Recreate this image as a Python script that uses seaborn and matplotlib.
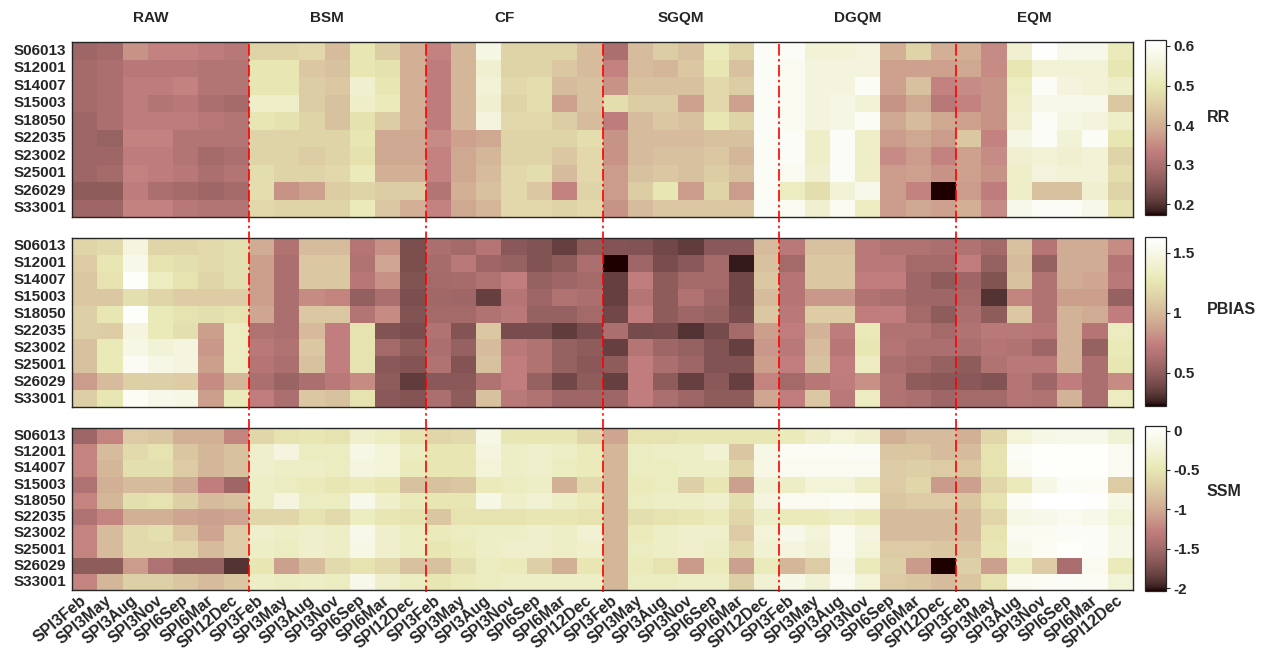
import numpy as np
import matplotlib
matplotlib.use("Agg")
import matplotlib.pyplot as plt
import seaborn as sns
from matplotlib.lines import Line2D
from matplotlib import transforms

stations = ["S06013", "S12001", "S14007", "S15003", "S18050",
            "S22035", "S23002", "S25001", "S26029", "S33001"]
indices = ["SPI3Feb", "SPI3May", "SPI3Aug", "SPI3Nov", "SPI6Sep", "SPI6Mar", "SPI12Dec"]
methods = ["RAW", "BSM", "CF", "SGQM", "DGQM", "EQM"]

# ---------------- RR ----------------
rr_raw = [[0.28,0.29,0.36,0.34,0.34,0.33,0.32],[0.29,0.30,0.32,0.32,0.32,0.31,0.31],
          [0.29,0.30,0.33,0.33,0.34,0.31,0.31],[0.29,0.30,0.33,0.31,0.32,0.30,0.29],
          [0.28,0.30,0.33,0.33,0.33,0.32,0.31],[0.28,0.27,0.34,0.34,0.31,0.31,0.31],
          [0.28,0.28,0.33,0.33,0.31,0.29,0.30],[0.28,0.29,0.34,0.33,0.32,0.30,0.31],
          [0.26,0.26,0.33,0.30,0.29,0.28,0.29],[0.28,0.28,0.34,0.34,0.32,0.31,0.31]]
rr_bsm = [[0.46,0.46,0.47,0.42,0.50,0.45,0.40],[0.50,0.50,0.44,0.43,0.50,0.49,0.40],
          [0.50,0.50,0.45,0.44,0.54,0.50,0.40],[0.53,0.53,0.45,0.43,0.53,0.51,0.40],
          [0.50,0.49,0.46,0.43,0.49,0.45,0.40],[0.46,0.46,0.46,0.46,0.50,0.39,0.39],
          [0.46,0.46,0.45,0.46,0.49,0.39,0.39],[0.48,0.46,0.46,0.47,0.51,0.40,0.40],
          [0.48,0.36,0.38,0.45,0.46,0.45,0.45],[0.47,0.46,0.46,0.46,0.51,0.44,0.40]]
rr_cf = [[0.34,0.41,0.57,0.46,0.46,0.46,0.42],[0.33,0.41,0.54,0.46,0.46,0.44,0.42],
         [0.33,0.41,0.55,0.47,0.48,0.42,0.43],[0.33,0.41,0.54,0.46,0.48,0.38,0.43],
         [0.33,0.41,0.56,0.47,0.47,0.45,0.42],[0.35,0.38,0.39,0.46,0.46,0.46,0.48],
         [0.34,0.39,0.41,0.46,0.46,0.44,0.47],[0.34,0.39,0.42,0.47,0.48,0.42,0.47],
         [0.31,0.40,0.43,0.47,0.44,0.34,0.46],[0.34,0.39,0.41,0.47,0.47,0.46,0.47]]
rr_sgqm = [[0.30,0.42,0.45,0.43,0.51,0.46,0.60],[0.34,0.42,0.41,0.44,0.50,0.43,0.60],
           [0.36,0.43,0.43,0.43,0.47,0.45,0.60],[0.48,0.45,0.45,0.38,0.47,0.38,0.60],
           [0.33,0.42,0.44,0.43,0.50,0.46,0.60],[0.36,0.42,0.42,0.42,0.43,0.43,0.60],
           [0.36,0.42,0.43,0.43,0.44,0.41,0.60],[0.37,0.43,0.44,0.43,0.45,0.43,0.60],
           [0.37,0.45,0.50,0.37,0.46,0.37,0.60],[0.36,0.42,0.44,0.44,0.44,0.44,0.60]]
rr_dgqm = [[0.60,0.55,0.55,0.56,0.40,0.46,0.40],[0.59,0.56,0.56,0.56,0.38,0.38,0.38],
           [0.59,0.56,0.56,0.60,0.38,0.43,0.34],[0.59,0.56,0.57,0.55,0.36,0.39,0.32],
           [0.59,0.56,0.57,0.60,0.39,0.42,0.39],[0.60,0.53,0.60,0.53,0.37,0.39,0.37],
           [0.60,0.53,0.60,0.53,0.35,0.37,0.34],[0.59,0.54,0.60,0.53,0.37,0.38,0.36],
           [0.52,0.48,0.55,0.58,0.37,0.34,0.17],[0.59,0.54,0.59,0.52,0.37,0.39,0.38]]
rr_eqm = [[0.40,0.35,0.54,0.61,0.58,0.58,0.51],[0.39,0.35,0.50,0.55,0.55,0.55,0.50],
          [0.35,0.36,0.52,0.60,0.56,0.55,0.53],[0.34,0.36,0.53,0.58,0.58,0.58,0.44],
          [0.38,0.36,0.54,0.60,0.57,0.56,0.53],[0.44,0.34,0.57,0.60,0.55,0.60,0.50],
          [0.38,0.35,0.54,0.55,0.54,0.55,0.46],[0.38,0.36,0.53,0.56,0.55,0.55,0.48],
          [0.37,0.33,0.53,0.43,0.43,0.54,0.46],[0.40,0.35,0.58,0.60,0.60,0.58,0.49]]

# ---------------- PBIAS ----------------
pb_raw = [[1.15,1.18,1.46,1.15,1.15,1.18,1.21],[1.10,1.26,1.52,1.24,1.21,1.18,1.21],
          [1.07,1.24,1.60,1.32,1.24,1.15,1.21],[1.07,1.07,1.21,1.15,1.10,1.10,1.10],
          [1.12,1.26,1.60,1.29,1.24,1.21,1.24],[1.12,1.10,1.46,1.29,1.21,0.87,1.32],
          [1.04,1.29,1.49,1.42,1.46,0.84,1.32],[1.04,1.29,1.56,1.49,1.46,0.87,1.32],
          [0.86,1.01,1.12,1.12,1.10,0.79,0.98],[1.11,1.26,1.57,1.52,1.49,0.87,1.29]]
pb_bsm = [[0.93,0.65,1.01,1.01,0.67,0.81,0.43],[0.87,0.63,1.07,1.07,0.65,0.90,0.43],
          [0.87,0.62,1.07,1.07,0.69,0.81,0.45],[0.87,0.62,0.79,0.76,0.52,0.62,0.43],
          [0.90,0.63,1.07,1.07,0.66,0.79,0.45],[0.65,0.63,1.00,0.74,1.24,0.45,0.42],
          [0.70,0.65,1.07,0.74,1.24,0.59,0.50],[0.67,0.62,1.04,0.74,1.24,0.48,0.46],
          [0.62,0.55,0.62,0.70,0.79,0.50,0.34],[0.73,0.62,1.07,1.04,1.24,0.48,0.46]]
pb_cf = [[0.62,0.59,0.67,0.48,0.45,0.36,0.50],[0.60,0.70,0.56,0.53,0.45,0.50,0.62],
         [0.59,0.60,0.65,0.73,0.53,0.56,0.59],[0.58,0.56,0.36,0.67,0.56,0.65,0.62],
         [0.59,0.59,0.65,0.70,0.53,0.53,0.59],[0.65,0.46,1.07,0.42,0.42,0.34,0.42],
         [0.62,0.53,1.01,0.70,0.65,0.53,0.50],[0.65,0.46,1.04,0.73,0.65,0.53,0.48],
         [0.48,0.48,0.65,0.73,0.53,0.39,0.50],[0.62,0.50,1.04,0.70,0.65,0.56,0.56]]
pb_sgqm = [[0.46,0.45,0.39,0.34,0.48,0.48,1.01],[0.22,0.56,0.42,0.48,0.59,0.25,1.04],
           [0.36,0.73,0.50,0.59,0.59,0.39,1.07],[0.36,0.67,0.50,0.65,0.56,0.39,1.01],
           [0.39,0.73,0.50,0.56,0.53,0.42,1.07],[0.62,0.41,0.42,0.31,0.41,0.59,0.87],
           [0.36,0.67,0.56,0.53,0.45,0.36,0.84],[0.50,0.73,0.62,0.56,0.45,0.45,0.87],
           [0.36,0.73,0.50,0.36,0.48,0.36,0.76],[0.56,0.73,0.62,0.56,0.50,0.50,0.90]]
pb_dgqm = [[0.70,1.04,1.04,0.70,0.65,0.65,0.62],[0.59,1.07,1.07,0.70,0.70,0.59,0.59],
           [0.67,1.07,1.07,0.73,0.73,0.56,0.50],[0.67,0.84,0.84,0.65,0.62,0.56,0.56],
           [0.70,1.10,1.10,0.73,0.73,0.59,0.50],[0.73,0.96,0.72,1.29,0.65,0.65,0.59],
           [0.70,1.01,0.69,1.26,0.67,0.62,0.62],[0.74,1.04,0.73,1.32,0.62,0.59,0.53],
           [0.59,0.69,0.72,0.81,0.65,0.50,0.48],[0.73,1.07,0.70,1.32,0.65,0.62,0.56]]
pb_eqm = [[0.65,0.59,1.04,0.67,0.93,0.93,0.79],[0.73,0.53,1.01,0.53,0.93,0.93,0.67],
          [0.56,0.45,1.04,0.65,0.93,0.90,0.70],[0.59,0.31,0.76,0.65,0.87,0.87,0.53],
          [0.62,0.50,1.07,0.65,0.96,0.93,0.73],[0.65,0.70,0.70,0.69,0.96,0.67,1.32],
          [0.62,0.67,0.65,0.56,0.96,0.53,1.29],[0.50,0.65,0.70,0.70,0.96,0.62,1.26],
          [0.48,0.45,0.67,0.56,0.73,0.62,0.79],[0.59,0.59,0.67,0.65,0.96,0.62,1.32]]

# ---------------- SSM ----------------
ss_raw = [[-1.53,-1.24,-0.74,-0.78,-0.95,-0.95,-1.24],[-1.24,-0.86,-0.61,-0.53,-0.78,-0.91,-0.82],
          [-1.24,-0.91,-0.57,-0.57,-0.74,-0.91,-0.82],[-1.41,-0.95,-0.86,-0.86,-0.99,-1.28,-1.53],
          [-1.24,-0.91,-0.57,-0.53,-0.70,-0.86,-0.82],[-1.41,-1.24,-0.95,-0.95,-1.03,-1.07,-1.03],
          [-1.24,-0.86,-0.61,-0.57,-0.78,-1.03,-0.74],[-1.24,-0.86,-0.61,-0.61,-0.65,-0.86,-0.74],
          [-1.62,-1.62,-1.09,-1.41,-1.58,-1.58,-1.91],[-1.24,-0.91,-0.70,-0.70,-0.78,-0.86,-0.78]]
ss_bsm = [[-0.65,-0.53,-0.49,-0.53,-0.32,-0.40,-0.53],[-0.32,-0.19,-0.40,-0.40,-0.15,-0.24,-0.40],
          [-0.32,-0.36,-0.36,-0.40,-0.19,-0.24,-0.44],[-0.36,-0.40,-0.44,-0.49,-0.44,-0.49,-0.82],
          [-0.36,-0.19,-0.40,-0.40,-0.11,-0.32,-0.44],[-0.65,-0.65,-0.53,-0.61,-0.40,-0.49,-0.53],
          [-0.32,-0.36,-0.32,-0.36,-0.11,-0.32,-0.40],[-0.36,-0.40,-0.32,-0.36,-0.15,-0.32,-0.40],
          [-0.49,-1.07,-0.86,-0.61,-0.53,-0.61,-0.82],[-0.36,-0.40,-0.36,-0.40,-0.11,-0.32,-0.40]]
ss_cf = [[-0.65,-0.61,-0.15,-0.49,-0.49,-0.49,-0.65],[-0.49,-0.49,-0.19,-0.36,-0.32,-0.36,-0.44],
         [-0.49,-0.49,-0.24,-0.36,-0.32,-0.40,-0.44],[-0.82,-0.78,-0.44,-0.40,-0.36,-0.95,-0.61],
         [-0.49,-0.49,-0.15,-0.32,-0.28,-0.36,-0.44],[-0.78,-0.53,-0.53,-0.53,-0.49,-0.49,-0.53],
         [-0.44,-0.40,-0.36,-0.36,-0.32,-0.36,-0.28],[-0.49,-0.44,-0.36,-0.32,-0.32,-0.36,-0.32],
         [-0.82,-0.57,-0.40,-0.44,-0.70,-0.95,-0.49],[-0.49,-0.44,-0.40,-0.36,-0.36,-0.36,-0.36]]
ss_sgqm = [[-1.03,-0.53,-0.53,-0.49,-0.49,-0.49,-0.49],[-0.91,-0.40,-0.36,-0.36,-0.28,-0.78,-0.15],
           [-0.91,-0.40,-0.40,-0.36,-0.36,-0.65,-0.15],[-0.91,-0.44,-0.40,-0.70,-0.49,-1.07,-0.28],
           [-0.91,-0.40,-0.36,-0.36,-0.32,-0.57,-0.19],[-0.91,-0.57,-0.53,-0.49,-0.44,-0.65,-0.36],
           [-0.91,-0.44,-0.36,-0.32,-0.32,-0.74,-0.24],[-0.91,-0.40,-0.36,-0.32,-0.36,-0.61,-0.28],
           [-0.91,-0.44,-0.53,-1.11,-0.44,-1.07,-0.44],[-0.91,-0.40,-0.40,-0.36,-0.36,-0.70,-0.28]]
ss_dgqm = [[-0.44,-0.32,-0.24,-0.32,-0.95,-0.86,-0.86],[-0.03,-0.03,-0.03,-0.01,-0.78,-0.78,-0.86],
           [-0.07,-0.07,-0.07,-0.07,-0.74,-0.70,-0.74],[-0.36,-0.24,-0.24,-0.36,-0.74,-0.65,-1.11],
           [-0.07,-0.07,-0.03,-0.07,-0.78,-0.74,-0.74],[-0.44,-0.44,-0.36,-0.44,-0.86,-0.86,-0.86],
           [-0.11,-0.24,-0.07,-0.19,-0.86,-0.86,-0.86],[-0.19,-0.28,-0.07,-0.24,-0.74,-0.74,-0.78],
           [-0.91,-0.74,-0.11,-0.44,-0.70,-1.11,-2.04],[-0.15,-0.28,-0.07,-0.24,-0.74,-0.78,-0.86]]
ss_eqm = [[-0.95,-0.65,-0.24,-0.15,-0.11,-0.11,-0.28],[-0.86,-0.53,-0.01,0.02,0.02,0.02,-0.07],
          [-0.78,-0.53,-0.05,0.02,0.02,0.02,-0.07],[-1.07,-0.65,-0.44,-0.15,-0.01,-0.03,-0.74],
          [-0.78,-0.53,-0.03,0.06,0.06,0.04,-0.15],[-0.86,-0.65,-0.15,-0.11,-0.07,-0.11,-0.24],
          [-0.86,-0.53,-0.07,-0.05,-0.01,-0.01,-0.15],[-0.78,-0.49,-0.11,-0.03,0.02,-0.01,-0.15],
          [-0.70,-1.07,-0.40,-0.74,-1.45,-0.07,-0.44],[-0.78,-0.53,-0.07,-0.03,-0.01,-0.03,-0.24]]

rr_ticks = [0.2, 0.3, 0.4, 0.5, 0.6]
pb_ticks = [0.5, 1, 1.5]
ss_ticks = [-2, -1.5, -1, -0.5, 0]

sns.set_theme(style="white")
plt.rcParams['font.family'] = ['Liberation Sans', 'DejaVu Sans']
plt.rcParams['font.weight'] = 'bold'
plt.rcParams['axes.unicode_minus'] = False
TXT = '#262626'

W, H = 1263, 657
fig = plt.figure(figsize=(W / 100, H / 100), dpi=100)


def rect(l, t, r, b):
    return [l / W, 1 - b / H, (r - l) / W, (b - t) / H]


panels = [
    (np.hstack([rr_raw, rr_bsm, rr_cf, rr_sgqm, rr_dgqm, rr_eqm]), 0.173, 0.615, rr_ticks,
     "RR", (42, 217), (40, 215), 118),
    (np.hstack([pb_raw, pb_bsm, pb_cf, pb_sgqm, pb_dgqm, pb_eqm]), 0.224, 1.63, pb_ticks,
     "PBIAS", (238, 407), (237, 406), 310),
    (np.hstack([ss_raw, ss_bsm, ss_cf, ss_sgqm, ss_dgqm, ss_eqm]), -2.036, 0.058, ss_ticks,
     "SSM", (428, 590), (426, 591), 492),
]

xlabels = indices * len(methods)
axes = []
for i, (arr, vmin, vmax, ticks, lab, (t, b), (ct, cb), ly) in enumerate(panels):
    ax = fig.add_axes(rect(72, t, 1133, b))
    cax = fig.add_axes(rect(1145, ct, 1166, cb))
    sns.heatmap(arr, ax=ax, cmap="pink", vmin=vmin, vmax=vmax, cbar_ax=cax,
                xticklabels=xlabels, yticklabels=stations, linewidths=0)
    for sp in ax.spines.values():
        sp.set_visible(True)
        sp.set_color(TXT)
        sp.set_linewidth(1.0)
    ax.tick_params(axis='y', which='both', direction='in', length=7.5, width=0.9,
                   left=True, right=True, labelleft=True, labelright=False,
                   colors=TXT, labelsize=11, pad=4)
    for tl in ax.get_yticklabels():
        tl.set_rotation(0)
        tl.set_fontweight('bold')
    if i < 2:
        ax.tick_params(axis='x', bottom=False, top=False, labelbottom=False)
    else:
        ax.tick_params(axis='x', direction='in', length=7, width=0.9, bottom=True, top=True,
                       labelbottom=True, colors=TXT, labelsize=11.5, pad=6)
        for tl in ax.get_xticklabels():
            tl.set_rotation(40)
            tl.set_ha('right')
            tl.set_va('center')
            tl.set_rotation_mode('anchor')
            tl.set_fontweight('bold')
    cbar = ax.collections[0].colorbar
    cbar.set_ticks(ticks)
    cbar.set_ticklabels([f"{v:g}" for v in ticks])
    cbar.outline.set_linewidth(0.9)
    cbar.outline.set_edgecolor(TXT)
    cbar.ax.tick_params(direction='out', length=3, width=0.8, colors=TXT, labelsize=11, pad=2)
    for tl in cbar.ax.get_yticklabels():
        tl.set_fontweight('bold')
    fig.text(1207 / W, 1 - ly / H, lab, fontsize=11.5, fontweight='bold', color=TXT,
             ha='left', va='center')
    axes.append(ax)

# method titles over the first panel
for k, m in enumerate(methods):
    x_disp = axes[0].transData.transform((k * 7 + 3.5, 0))[0]
    fig.text(x_disp / W - 10 / W, 1 - 18 / H, m, fontsize=11, fontweight='bold',
             color=TXT, ha='center', va='center')

# red dash-dot separators spanning all panels
trans = transforms.blended_transform_factory(axes[2].transData, fig.transFigure)
for k in range(1, len(methods)):
    fig.add_artist(Line2D([k * 7, k * 7], [1 - 44 / H, 1 - 592 / H], transform=trans,
                          color='#ff0000', lw=1.2, linestyle=(0, (7, 2, 1.5, 2))))

fig.savefig("out.png", dpi=100)
